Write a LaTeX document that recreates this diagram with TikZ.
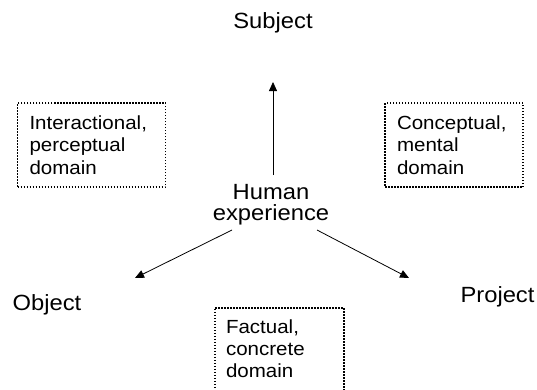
\documentclass[tikz,border=0pt]{standalone}
\usepackage{fontspec}
\setmainfont{Liberation Sans}[FakeStretch=1.08]
\usetikzlibrary{arrows.meta}
\tikzset{
  dbox/.style={draw=black, line width=1.5pt, dash pattern=on 1.5pt off 1.5pt,
    align=left, inner xsep=12pt, font=\fontsize{19}{22.5}\selectfont},
  lbl/.style={font=\fontsize{22}{22}\selectfont, anchor=base, inner sep=0pt},
  arr/.style={line width=0.8pt, -{Triangle[length=9pt,width=8pt]}}
}
\begin{document}
\begin{tikzpicture}[x=1pt,y=-1pt]
\useasboundingbox (0,0) rectangle (537,389);
\node[lbl] (S) at (273,28) {Subject};
\node[lbl] (O) at (47,310) {Object};
\node[lbl] (P) at (497.5,302) {Project};
\node[font=\fontsize{22}{21}\selectfont, align=center, inner sep=0pt, anchor=base] (H) at (271,220) {Human\\experience};
\node[dbox, minimum width=148pt, minimum height=84pt, text width=124pt] (L) at (91.5,145) {Interactional,\\perceptual\\domain};
\node[dbox, minimum width=138pt, minimum height=84pt, text width=114pt] (R) at (454,145) {Conceptual,\\mental\\domain};
\node[dbox, anchor=north, font=\fontsize{19}{22}\selectfont, minimum width=129pt, text width=107pt, inner xsep=11pt, inner ysep=12pt] (B) at (279.5,307) {Factual,\\concrete\\domain\\\mbox{}};
\coordinate (hu) at (273,175);
\coordinate (tu) at (273,82);
\coordinate (hl) at (232,230);
\coordinate (tl) at (135,278);
\coordinate (hr) at (317,230);
\coordinate (tr) at (409,278);
\draw[arr] (hu) -- (tu);
\draw[arr] (hl) -- (tl);
\draw[arr] (hr) -- (tr);
\end{tikzpicture}
\end{document}
